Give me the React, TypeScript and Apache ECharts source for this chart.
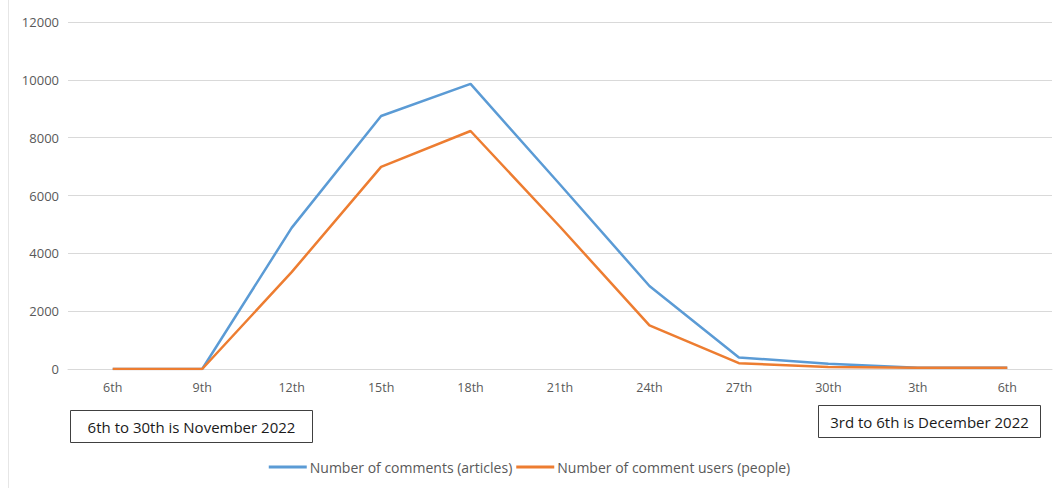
import React, { useEffect, useRef } from "react";
import * as echarts from "echarts";

const categories = ["6th", "9th", "12th", "15th", "18th", "21th", "24th", "27th", "30th", "3th", "6th"];
const commentsArticles = [0, 0, 4880, 8750, 9860, 6380, 2870, 400, 180, 40, 40];
const commentUsers = [0, 0, 3350, 6990, 8230, 4920, 1510, 200, 70, 40, 40];
const yTicks = { min: 0, max: 12000, interval: 2000 };
const seriesNames = ["Number of comments (articles)", "Number of comment users (people)"];
const notes = ["6th to 30th is November 2022", "3rd to 6th is December 2022"];

export default function App() {
  const ref = useRef<HTMLDivElement>(null);
  useEffect(() => {
    if (!ref.current) return;
    const chart = echarts.init(ref.current, null, { renderer: "svg" });
    const font = "'Open Sans', 'Noto Sans', sans-serif";
    chart.setOption({
      animation: false,
      backgroundColor: "#ffffff",
      textStyle: { fontFamily: font },
      grid: { left: 68, right: 7, top: 22, bottom: 119, containLabel: false },
      legend: {
        bottom: 9,
        left: "center",
        itemWidth: 38,
        itemHeight: 3,
        itemGap: 4,
        icon: "rect",
        textStyle: { color: "#595959", fontSize: 14, fontFamily: font, padding: [0, 0, 0, -2] },
        data: seriesNames,
      },
      xAxis: {
        type: "category",
        data: categories,
        boundaryGap: true,
        axisLine: { lineStyle: { color: "#d9d9d9", width: 1 } },
        axisTick: { show: false },
        axisLabel: { color: "#595959", fontSize: 12.5, margin: 12, fontFamily: font },
      },
      yAxis: {
        type: "value",
        min: yTicks.min,
        max: yTicks.max,
        interval: yTicks.interval,
        axisLine: { show: false },
        axisTick: { show: false },
        axisLabel: {
          color: "#595959",
          fontSize: 13,
          margin: 9,
          fontFamily: font,
          formatter: (v: number) => String(v),
        },
        splitLine: { lineStyle: { color: "#d9d9d9", width: 1 } },
      },
      series: [
        {
          name: seriesNames[0],
          type: "line",
          data: commentsArticles,
          showSymbol: false,
          symbol: "none",
          itemStyle: { color: "#5b9bd5" },
          lineStyle: { color: "#5b9bd5", width: 2.5 },
          z: 2,
        },
        {
          name: seriesNames[1],
          type: "line",
          data: commentUsers,
          showSymbol: false,
          symbol: "none",
          itemStyle: { color: "#ed7d31" },
          lineStyle: { color: "#ed7d31", width: 2.5 },
          z: 3,
        },
      ],
      graphic: [
        {
          type: "line",
          shape: { x1: 8.5, y1: 0, x2: 8.5, y2: 488 },
          style: { stroke: "#e6e6e6", lineWidth: 1 },
        },
        {
          type: "group",
          left: 70,
          top: 410,
          children: [
            {
              type: "rect",
              shape: { x: 0, y: 0, width: 242, height: 32 },
              style: { fill: "#ffffff", stroke: "#404040", lineWidth: 1 },
            },
            {
              type: "text",
              x: 121,
              y: 16,
              style: {
                text: notes[0],
                fill: "#1a1a1a",
                font: "15px " + font,
                align: "center",
                verticalAlign: "middle",
              },
            },
          ],
        },
        {
          type: "group",
          left: 818,
          top: 405,
          children: [
            {
              type: "rect",
              shape: { x: 0, y: 0, width: 222, height: 32 },
              style: { fill: "#ffffff", stroke: "#404040", lineWidth: 1 },
            },
            {
              type: "text",
              x: 111,
              y: 16,
              style: {
                text: notes[1],
                fill: "#1a1a1a",
                font: "15px " + font,
                align: "center",
                verticalAlign: "middle",
              },
            },
          ],
        },
      ],
    });
    return () => chart.dispose();
  }, []);
  return (
    <div
      ref={ref}
      style={{ position: "fixed", left: 0, top: 0, width: 1059, height: 488 }}
    />
  );
}
